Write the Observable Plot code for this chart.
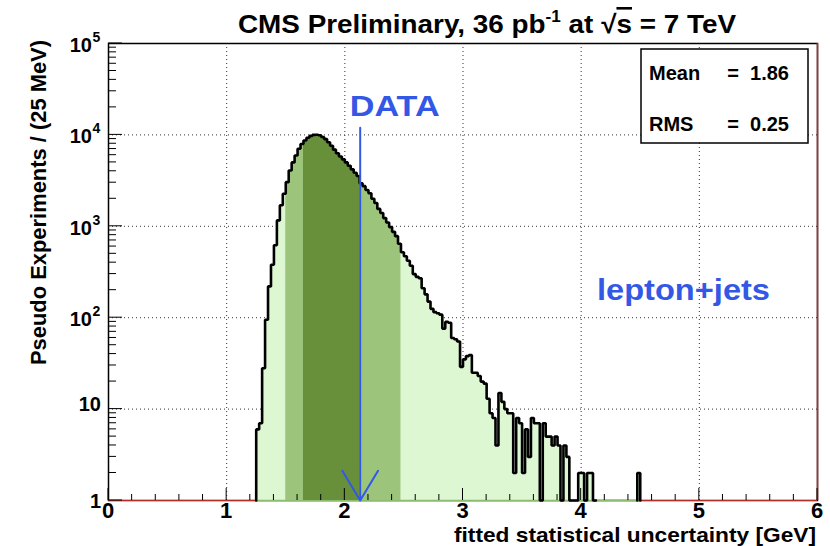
<!DOCTYPE html>
<html>
<head>
<meta charset="utf-8">
<script src="https://cdn.jsdelivr.net/npm/d3@7"></script>
<script src="https://cdn.jsdelivr.net/npm/@observablehq/plot@0.6"></script>
<style>
  html, body { margin: 0; padding: 0; background: #fff; }
  #chart svg { display: block; }
</style>
</head>
<body>
<div id="chart"></div>
<script>
// Pseudo-experiment distribution of the fitted statistical uncertainty, 25 MeV bins.
const binStart = 1.25;   // GeV, lower edge of the first bin listed
const binWidth = 0.025;  // GeV
const counts = [
  6, 7, 28, 95, 220, 380, 620, 1160, 1700, 2270,
  3040, 4080, 5000, 5950, 7050, 7950, 8700, 9300, 9750, 10000,
  10050, 9900, 9500, 9000, 8300, 7600, 6900, 6300, 5800, 5400,
  5000, 4600, 4200, 3850, 3550, 2950, 2750, 2500, 2300, 2000,
  1800, 1550, 1400, 1230, 1100, 980, 870, 780, 645, 520,
  470, 420, 370, 300, 280, 270, 210, 180, 150, 125,
  115, 112, 108, 76, 90, 88, 60, 58, 55, 29,
  35, 38, 39, 25, 25, 23, 20, 19, 13, 9,
  8, 4, 15, 12, 10, 9, 9, 2, 8, 7,
  2, 6, 3, 8, 7, 7, 1, 7, 5, 5,
  4, 5, 4, 1, 4, 3, 1, 1, 1, 2,
  2, 1, 2, 2, 1, 0, 0, 0, 0, 0,
  0, 0, 0, 0, 0, 0, 0, 0, 0, 2
];

// Shaded ranges of the distribution (GeV)
const outerBand = [1.5, 2.475];
const innerBand = [1.65, 2.125];
// Observed value in data (GeV)
const dataValue = 2.13;

// Axis ticks and labels
const xTickValues = [0, 1, 2, 3, 4, 5, 6];
const yTickValues = [1, 10, 100, 1000, 10000, 100000];
const yTickBase = ["1", "10", "10", "10", "10", "10"];
const yTickExp = ["", "", "2", "3", "4", "5"];

// Statistics box
const statNames = ["Mean", "RMS"];
const statValues = ["1.86", "0.25"];

const colors = {
  light: "#ddf7d2",
  lightEdge: "#8fbd70",
  medium: "#9cc47b",
  dark: "#688f3a",
  blue: "#3458e6",
  red: "#b0302a"
};
const font = "'Liberation Sans', Arial, Helvetica, sans-serif";

// Bins as {x, n}
const bins = counts.map((n, i) => ({x: +(binStart + i * binWidth).toFixed(4), n}));
const histEnd = binStart + counts.length * binWidth;

// Step points for a filled range [lo, hi)
function stepPoints(lo, hi) {
  const sel = bins.filter(b => b.x >= lo - 1e-9 && b.x < hi - 1e-9);
  if (!sel.length) return [];
  return [...sel, {x: hi, n: sel[sel.length - 1].n}];
}

// Outline: one polyline per run of non-empty bins, dropping to the baseline at both ends
function outlinePoints() {
  const pts = [];
  let run = -1, open = false;
  bins.forEach((b, i) => {
    if (b.n > 0) {
      if (!open) { run++; open = true; pts.push({x: b.x, y: 1, run}); }
      pts.push({x: b.x, y: Math.max(b.n, 1), run});
    } else if (open) {
      const prev = bins[i - 1];
      pts.push({x: b.x, y: Math.max(prev.n, 1), run});
      pts.push({x: b.x, y: 1, run});
      open = false;
    }
  });
  if (open) {
    const last = bins[bins.length - 1];
    pts.push({x: histEnd, y: Math.max(last.n, 1), run});
    pts.push({x: histEnd, y: 1, run});
  }
  return pts;
}

const fillArea = (pts, fill) => Plot.areaY(pts, {
  x: "x", y1: 1, y2: d => Math.max(d.n, 1), curve: "step-after", fill
});

// Tick marks drawn inward from the left and bottom axes
function axisTicks(index, {x, y}, values, dims) {
  const left = dims.marginLeft;
  const bottom = dims.height - dims.marginBottom;
  const g = d3.create("svg:g").attr("stroke", "#000").attr("stroke-width", 1);
  d3.range(0, 31).forEach(i => {
    const v = i * 0.2;
    const major = i % 5 === 0;
    g.append("line").attr("x1", x(v)).attr("x2", x(v))
      .attr("y1", bottom).attr("y2", bottom - (major ? 12 : 6));
  });
  yTickValues.slice(0, -1).forEach(d => {
    d3.range(1, 10).forEach(k => {
      const v = d * k;
      g.append("line").attr("x1", left).attr("x2", left + (k === 1 ? 14 : 8))
        .attr("y1", y(v)).attr("y2", y(v));
    });
  });
  g.append("line").attr("x1", left).attr("x2", left + 14)
    .attr("y1", y(1e5)).attr("y2", y(1e5));
  return g.node();
}

// Tick labels, axis titles, plot title and annotations
function labels(index, {x, y}, values, dims) {
  const left = dims.marginLeft;
  const right = dims.width - dims.marginRight;
  const top = dims.marginTop;
  const bottom = dims.height - dims.marginBottom;
  const g = d3.create("svg:g")
    .attr("font-family", font).attr("font-weight", "bold").attr("fill", "#000")
    .attr("text-anchor", "start");

  xTickValues.forEach(v => {
    g.append("text").attr("x", x(v)).attr("y", bottom + 18)
      .attr("text-anchor", "middle").attr("font-size", 22).text(String(v));
  });

  yTickValues.forEach((v, i) => {
    if (yTickExp[i]) {
      g.append("text").attr("x", left - 16).attr("y", y(v) + 9)
        .attr("text-anchor", "end").attr("font-size", 20).text(yTickBase[i]);
      g.append("text").attr("x", left - 15.5).attr("y", y(v) - 1)
        .attr("text-anchor", "start").attr("font-size", 14).text(yTickExp[i]);
    } else {
      g.append("text").attr("x", left - 7).attr("y", y(v) + (v === 1 ? 8 : 2))
        .attr("text-anchor", "end").attr("font-size", 20).text(yTickBase[i]);
    }
  });

  // y axis title
  g.append("text")
    .attr("transform", `translate(${left - 62},${top + 322}) rotate(-90)`)
    .attr("font-size", 22)
    .attr("textLength", 325).attr("lengthAdjust", "spacingAndGlyphs")
    .text("Pseudo Experiments / (25 MeV)");

  // x axis title
  g.append("text").attr("x", right - 363).attr("y", bottom + 41.5)
    .attr("font-size", 21)
    .attr("textLength", 362).attr("lengthAdjust", "spacingAndGlyphs")
    .text("fitted statistical uncertainty [GeV]");

  // Title
  const t = g.append("text").attr("x", 238).attr("y", 33).attr("font-size", 26)
    .attr("textLength", 498).attr("lengthAdjust", "spacingAndGlyphs");
  t.append("tspan").text("CMS Preliminary, 36 pb");
  t.append("tspan").attr("font-size", 16).attr("dy", -11).text("-1");
  t.append("tspan").attr("dy", 11).text(" at ");
  t.append("tspan").text("\u221A");
  t.append("tspan").attr("text-decoration", "overline").text("s");
  t.append("tspan").text(" = 7 TeV");

  // Observed value label
  g.append("text").attr("x", x(dataValue) - 10).attr("y", 116)
    .attr("fill", colors.blue).attr("font-size", 30)
    .attr("textLength", 90).attr("lengthAdjust", "spacingAndGlyphs").text("DATA");

  // Channel label
  g.append("text").attr("x", 597).attr("y", 300)
    .attr("fill", colors.blue).attr("font-size", 30)
    .attr("textLength", 173).attr("lengthAdjust", "spacingAndGlyphs").text("lepton+jets");

  // Statistics box
  const bx = right - 176, by = top + 6, bw = 167, bh = 94;
  g.append("rect").attr("x", bx).attr("y", by).attr("width", bw).attr("height", bh)
    .attr("fill", "#fff").attr("stroke", "#000").attr("stroke-width", 1.5);
  statNames.forEach((name, i) => {
    const yy = by + 31 + i * 51;
    g.append("text").attr("x", bx + 8).attr("y", yy).attr("font-size", 20).text(name);
    g.append("text").attr("x", bx + 92).attr("y", yy).attr("text-anchor", "middle")
      .attr("font-size", 20).text("=");
    g.append("text").attr("x", bx + 148).attr("y", yy).attr("text-anchor", "end")
      .attr("font-size", 20).text(statValues[i]);
  });
  return g.node();
}

const chart = Plot.plot({
  width: 830,
  height: 546,
  marginLeft: 108,
  marginRight: 13,
  marginTop: 43,
  marginBottom: 46,
  x: {domain: [0, 6], axis: null},
  y: {type: "log", domain: [1, 1e5], axis: null},
  style: {background: "#fff", fontFamily: font, overflow: "visible"},
  marks: [
    // dotted grid
    Plot.ruleX(xTickValues.slice(1, -1), {y1: 1, y2: 1e5, stroke: "#333", strokeWidth: 1, strokeDasharray: "1,3"}),
    Plot.ruleY(yTickValues.slice(1, -1), {x1: 0, x2: 6, stroke: "#333", strokeWidth: 1, strokeDasharray: "1,3"}),
    // frame
    Plot.frame({stroke: "#000", strokeWidth: 1.5}),
    // baseline of the empty histogram range
    Plot.ruleY([1], {stroke: colors.red, strokeWidth: 1.2}),
    // histogram fill and shaded ranges
    fillArea(stepPoints(binStart, histEnd), colors.light),
    Plot.ruleY([1], {x1: binStart, x2: histEnd, stroke: colors.lightEdge, strokeWidth: 1.5}),
    fillArea(stepPoints(outerBand[0], outerBand[1]), colors.medium),
    fillArea(stepPoints(innerBand[0], innerBand[1]), colors.dark),
    // histogram outline
    Plot.line(outlinePoints(), {x: "x", y: "y", z: "run", curve: "step-after", stroke: "#000", strokeWidth: 2.6, strokeLinejoin: "miter"}),
    Plot.ruleX([6], {y1: 1, y2: 1e5, stroke: colors.red, strokeWidth: 1.5}),
    axisTicks,
    // observed value
    Plot.arrow([dataValue], {x1: d => d, x2: d => d, y1: 1.2e4, y2: 1, stroke: colors.blue, strokeWidth: 2, headLength: 26, headAngle: 62}),
    labels
  ]
});

document.getElementById("chart").appendChild(chart);
</script>
</body>
</html>
